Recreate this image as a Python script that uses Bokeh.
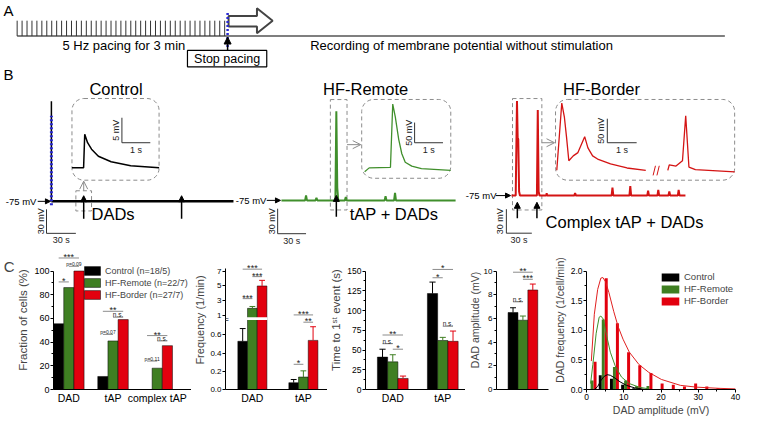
import math
from bokeh.plotting import figure
from bokeh.models import (Range1d, Arrow, NormalHead, OpenHead, Label, Legend, LegendItem,
                          FixedTicker, LinearAxis)
from bokeh.layouts import column, row
from bokeh.embed import file_html
from bokeh.resources import INLINE
from bokeh.core.properties import value

FONT = "Liberation Sans"
C_BLACK = "#000000"
C_GREEN = "#3f7f22"
C_RED = "#e2000e"
TR_GREEN = "#408f2c"
TR_RED = "#d41414"
GRAY = "#8c8c8c"
BAR_COLORS = [C_BLACK, C_GREEN, C_RED]

# ------------------------------------------------------------------ data
series_names = ["Control", "HF-Remote", "HF-Border"]
legend_c1 = ["Control (n=18/5)", "HF-Remote (n=22/7)", "HF-Border (n=27/7)"]

frac_categories = ["DAD", "tAP", "complex tAP"]
frac_control = [55.5, 11, 0]
frac_remote = [86, 41, 18]
frac_border = [100, 59, 37]

freq_categories = ["DAD", "tAP"]
freq_control = [0.53, 0.075]
freq_control_sem = [0.14, 0.035]
freq_remote = [2.0, 0.137]
freq_remote_sem = [0.25, 0.068]
freq_border = [5.0, 0.54]
freq_border_sem = [0.75, 0.15]

time_categories = ["DAD", "tAP"]
time_control = [41, 121.5]
time_control_sem = [10, 14.5]
time_remote = [35, 62]
time_remote_sem = [9, 4]
time_border = [14, 61]
time_border_sem = [3, 13]

amp_control = [6.5]
amp_control_sem = [0.4]
amp_remote = [5.85]
amp_remote_sem = [0.35]
amp_border = [8.4]
amp_border_sem = [0.5]

hist_bins = [1.5, 4.5, 7.5, 10.5, 13.5, 16.5, 19.5, 22.5, 25.5, 28.5, 31.5, 34.5, 37.5]
hist_control = [0, 0.24, 0.18, 0.08, 0.02, 0, 0, 0, 0, 0, 0, 0, 0]
hist_remote = [0.15, 1.18, 0.38, 0.15, 0.06, 0.06, 0, 0, 0, 0, 0, 0, 0]
hist_border = [0.47, 1.88, 1.12, 0.63, 0.41, 0.28, 0.10, 0.08, 0.05, 0.10, 0.05, 0.02, 0.01]

fit_border_x = [1.3, 2.1, 3.0, 3.85, 4.4, 5.1, 6.0, 7.3, 8.5, 9.8, 11.5, 14.1, 16.7, 20.1, 25.2, 29.5, 35.5, 40.0]
fit_border_y = [0.48, 1.27, 1.69, 1.88, 1.89, 1.82, 1.64, 1.32, 1.06, 0.85, 0.63, 0.42, 0.29, 0.17, 0.07, 0.04, 0.02, 0.01]
fit_remote_x = [1.1, 1.7, 2.6, 3.4, 3.85, 4.5, 5.4, 6.4, 7.7, 9.4, 11.5, 14.1, 16.7]
fit_remote_y = [0.10, 0.42, 0.95, 1.22, 1.24, 1.19, 0.91, 0.63, 0.40, 0.21, 0.10, 0.04, 0.01]
fit_control_x = [2.1, 3.0, 3.85, 4.7, 5.6, 6.4, 7.7, 9.0, 10.7, 12.8, 15.8]
fit_control_y = [0.0, 0.05, 0.15, 0.22, 0.25, 0.24, 0.19, 0.13, 0.07, 0.03, 0.0]

# significance marks: (group, series_i, series_j, y, label)
sig_frac = [(1, 0, 1, 90.8, "*"), (1, 0, 2, 111, "***"), (1, 1, 2, 104, "p=0.09"),
            (2, 0, 2, 66, "**"), (2, 1, 2, 61, "n.s."), (2, 0, 1, 46.5, "p=0.07"),
            (3, 0, 2, 45.5, "**"), (3, 1, 2, 41, "n.s."), (3, 0, 1, 24, "p=0.11")]
sig_freq_upper = [(1, 0, 1, 3.3, "***"), (1, 0, 2, 7.25, "***"), (1, 1, 2, 6.25, "***")]
sig_freq_lower = [(2, 0, 1, 0.277, "*"), (2, 0, 2, 0.82, "***"), (2, 1, 2, 0.74, "**")]
sig_time = [(1, 0, 2, 69, "**"), (1, 0, 1, 58, "n.s."), (1, 1, 2, 51, "*"),
            (2, 0, 2, 152, "*"), (2, 0, 1, 141.5, "*"), (2, 1, 2, 80, "n.s.")]
sig_amp = [(1, 0, 2, 9.9, "**"), (1, 1, 2, 9.3, "***"), (1, 0, 1, 7.4, "n.s.")]

# membrane potential traces: time (s) / potential (mV)
ctrl_t = [0, 32, 33, 34, 35, 132, 133, 134, 186]
ctrl_v = [-75, -75, -71, -74.5, -75, -75, -72, -75, -75]
ctrl_stim_top = 50
ctrl_in_t = [0, 0.41, 0.45, 0.55, 0.69, 0.93, 1.38, 2.07, 3.07]
ctrl_in_v = [-75, -75, -68.3, -70.0, -71.3, -72.7, -73.8, -74.6, -75.0]

rem_t = [0, 25, 26, 27, 36, 37, 38, 57, 58, 59, 60, 67, 68, 69, 109, 110, 111, 119, 120, 121, 184]
rem_v = [-75, -75, -69, -75, -75, -72, -75, -75, 32, -60, -75, -75, -71, -75, -75, -70, -75, -75, -66, -75, -75]
rem_in_t = [0, 0.16, 0.91, 0.99, 1.08, 1.2, 1.31, 1.43, 1.66, 2.0, 3.03]
rem_in_v = [-78, -68.3, -66.8, 89.8, 57.9, 2.4, -33.3, -54.3, -63.8, -70.2, -74.3]

bor_t = [0, 5, 6.5, 7.3, 8, 9, 10, 30, 31, 32, 33, 41, 41.5, 42, 74, 75, 76, 118, 119, 120,
         139, 140, 141, 160, 161, 162, 172, 173, 174, 185, 186, 187, 196, 197, 198, 205]
bor_v = [-75, -75, 43, -2, -5, -70, -75, -75, 32, -70, -75, -75, -72, -75, -75, -72, -75, -75, -65, -75,
         -75, -63, -75, -75, -69, -75, -75, -68, -75, -75, -70, -75, -75, -68, -75, -75]
bor_in_t = [0.01, 0.18, 0.27, 0.34, 0.42, 0.57, 0.73, 0.96, 1.07, 1.23, 1.4, 1.84, 2.4, 3.04,
            float("nan"), 3.79, 3.84, 4.07, 4.29, 4.4, 4.51, 4.73, 6.07]
bor_in_v = [-74.4, 65.6, 35.6, -4.4, -54.4, -44.4, -37.6, -4.4, -27.6, -44.4, -51, -61, -69.6, -74.4,
            float("nan"), -74.4, -63, -65.6, -54.4, 39, -67.6, -73, -77.6]

# ------------------------------------------------------------------ top figure (A + B)
W_REF, H_TOP = 757, 256
top = figure(width=741, height=246, x_range=Range1d(0, W_REF), y_range=Range1d(H_TOP, 0),
             x_axis_type=None, y_axis_type=None, output_backend="svg",
             toolbar_location=None, min_border=0)
top.grid.visible = False
top.outline_line_color = None

XR, YR = {}, {}


def frame(name, ox, oy, kx, ky, t0=0.0, v0=-75.0):
    XR[name] = Range1d(t0 - ox / kx, t0 + (W_REF - ox) / kx)
    YR[name] = Range1d(v0 - (H_TOP - oy) / ky, v0 + oy / ky)


frame("ctrl", 52, 209, 1.0, 0.833)
frame("rem", 287, 208, 0.967, 0.867)
frame("bor", 522, 203, 0.867, 0.833)
frame("ctrl_in", 73, 174, 29, 5.2)
frame("rem_in", 372, 177, 29, 0.42)
frame("bor_in", 568, 177, 30, 0.5)
top.extra_x_ranges = XR
top.extra_y_ranges = YR


def rn(name):
    return dict(x_range_name=name, y_range_name=name)


def lab(x, y, text, size, align="center", baseline="middle", angle=0, color="black"):
    top.add_layout(Label(x=x, y=y, text=text, text_font=FONT, text_font_size=size,
                         text_align=align, text_baseline=baseline, angle=angle, text_color=color))


# --- panel A
lab(3, 10, "A", "15px", align="left")
top.line([17, 740], [37, 37], line_color="#555555", line_width=1.5)
n_ticks = 43
tx = [17 + i * (229 - 17) / (n_ticks - 1) for i in range(n_ticks)]
top.segment(x0=tx, y0=[21] * n_ticks, x1=tx, y1=[37] * n_ticks, line_color="#333333", line_width=1)
top.patch([233, 262, 262, 278, 262, 262, 233], [16, 16, 8, 21, 34, 27, 27],
          fill_color="white", line_color="#444444", line_width=2)
top.line([232, 232], [13, 50], line_color="#2a2ad4", line_width=2.5, line_dash="2 2")
top.add_layout(Arrow(x_start=232, y_start=52, x_end=232, y_end=38, line_color="black", line_width=1.5,
                     end=NormalHead(size=7, fill_color="black", line_color="black")))
top.quad(left=[191], right=[272], top=[52], bottom=[69], fill_color="white", line_color="black", line_width=1.2)
lab(231.5, 60.5, "Stop pacing", "12.5px")
lab(126, 47, "5 Hz pacing for 3 min", "13px")
lab(471, 47, "Recording of membrane potential without stimulation", "13px")

# --- panel B
lab(3, 77, "B", "15px", align="left")
lab(118, 92, "Control", "16.5px")
lab(373, 92, "HF-Remote", "16.5px")
lab(614, 92, "HF-Border", "16.5px")

# inset boxes (rounded dashed)
for l_, r_, t_, b_ in [(73, 162, 102, 187), (369, 460, 103, 185), (567, 750, 103, 187)]:
    top.quad(left=[l_], right=[r_], top=[t_], bottom=[b_], border_radius=12, fill_color=None,
             line_color=GRAY, line_dash="4 3", line_width=1)

# event boxes in trace units
for nm, (t0_, t1_, v0_, v1_) in [("ctrl", (25, 41, -87, -61.8)), ("rem", (51.7, 69.3, -86.5, 46)),
                                 ("bor", (1.2, 35.8, -93, 46.2))]:
    top.quad(left=[t0_], right=[t1_], bottom=[v0_], top=[v1_], fill_color=None,
             line_color=GRAY, line_dash="4 3", line_width=1, **rn(nm))

# connectors
for xs, ys, xe, ye in [(85, 198, 85, 188), (354, 150, 368, 150), (553, 148, 566, 148)]:
    top.add_layout(Arrow(x_start=xs, y_start=ys, x_end=xe, y_end=ye, line_color=GRAY, line_width=1,
                         end=OpenHead(size=8, line_color=GRAY, line_width=1)))

# traces
top.line([0, 0], [-75, ctrl_stim_top], line_color="black", line_width=1.5, **rn("ctrl"))
top.line(ctrl_t, ctrl_v, line_color="black", line_width=2.5, **rn("ctrl"))
top.line([0, 0], [-80, 32], line_color="#2a2ad4", line_width=3, line_dash="2 2", **rn("ctrl"))
top.line(ctrl_in_t, ctrl_in_v, line_color="black", line_width=1.5, **rn("ctrl_in"))
top.line(rem_t, rem_v, line_color=TR_GREEN, line_width=2, **rn("rem"))
top.line(rem_in_t, rem_in_v, line_color=TR_GREEN, line_width=1.3, **rn("rem_in"))
top.line(bor_t, bor_v, line_color=TR_RED, line_width=2, **rn("bor"))
top.line(bor_in_t, bor_in_v, line_color=TR_RED, line_width=1.3, **rn("bor_in"))
top.segment(x0=[3.29, 3.42], y0=[-85, -85], x1=[3.37, 3.50], y1=[-65, -65],
            line_color=TR_RED, line_width=1, **rn("bor_in"))


def scalebar(name, t0, v0, dt, dv, tlabel, vlabel, size="9px"):
    top.line([t0, t0, t0 + dt], [v0 + dv, v0, v0], line_color="#333333", line_width=1, **rn(name))
    top.text(x=[t0], y=[v0 + dv / 2], text=[vlabel], angle=math.pi / 2, text_align="center",
             text_baseline="bottom", x_offset=-1, text_font=value(FONT), text_font_size=value(size),
             text_color="#222222", **rn(name))
    top.text(x=[t0 + dt / 2], y=[v0], text=[tlabel], text_align="center", text_baseline="top",
             y_offset=2, text_font=value(FONT), text_font_size=value(size), text_color="#222222", **rn(name))


scalebar("ctrl", -5, -115, 30, 30, "30 s", "30 mV")
scalebar("rem", -4, -115, 30, 30, "30 s", "30 mV")
scalebar("bor", -6, -122, 30, 30, "30 s", "30 mV")
scalebar("ctrl_in", 1.76, -70, 1, 5, "1 s", "5 mV")
scalebar("rem_in", 1.76, -6, 1, 50, "1 s", "50 mV")
scalebar("bor_in", 1.73, -17, 1, 50, "1 s", "50 mV")

# event arrows
for nm, t_, vs, ve in [("ctrl", 33, -96.6, -68), ("ctrl", 133, -96.6, -68), ("rem", 58, -94.6, -69),
                       ("bor", 6.9, -103.4, -83.4), ("bor", 30, -103.4, -83.4)]:
    top.add_layout(Arrow(x_start=t_, y_start=vs, x_end=t_, y_end=ve, line_color="black", line_width=1.5,
                         end=NormalHead(size=6, fill_color="black", line_color="black"), **rn(nm)))

# -75 mV markers
for nm in ["ctrl", "rem", "bor"]:
    top.text(x=[0], y=[-75], text=["-75 mV"], text_align="right", text_baseline="middle", x_offset=-15,
             text_font=value(FONT), text_font_size=value("9.5px"), **rn(nm))
for xs, xe, y_ in [(38, 51, 209), (272, 286, 208), (506, 521, 203)]:
    top.add_layout(Arrow(x_start=xs, y_start=y_, x_end=xe, y_end=y_, line_color="black", line_width=1,
                         end=NormalHead(size=5, fill_color="black", line_color="black")))

lab(115, 222, "DADs", "16.5px")
lab(402, 222, "tAP + DADs", "16.5px")
lab(640, 230, "Complex  tAP + DADs", "16.5px")

# ------------------------------------------------------------------ bottom figures (C)
YT = (409 - 260) / (409 - 282)


def c_fig(width, bl, br, xr, yr):
    f = figure(width=width, height=172, x_range=xr, y_range=yr, output_backend="svg",
               toolbar_location=None, min_border_left=bl, min_border_right=br,
               min_border_top=4, min_border_bottom=24)
    f.grid.visible = False
    f.outline_line_color = None
    return f


def style_axis(ax, tick_size="9px", label_size="11px"):
    ax.axis_line_color = "black"
    ax.axis_line_width = 1
    ax.major_tick_line_color = "black"
    ax.minor_tick_line_color = "black"
    ax.major_tick_out = 3
    ax.major_tick_in = 0
    ax.minor_tick_out = 2
    ax.minor_tick_in = 0
    ax.major_label_text_font = FONT
    ax.major_label_text_font_size = tick_size
    ax.major_label_text_color = "black"
    ax.axis_label_text_font = FONT
    ax.axis_label_text_font_size = label_size
    ax.axis_label_text_font_style = "normal"
    ax.major_label_standoff = 1
    ax.axis_label_standoff = 2


def cat_axis(f, cats, size="10.5px"):
    ax = f.xaxis[0]
    style_axis(ax, tick_size=size)
    ax.ticker = FixedTicker(ticks=list(range(1, len(cats) + 1)), minor_ticks=[])
    ax.major_label_overrides = {i + 1: c for i, c in enumerate(cats)}
    ax.major_tick_out = 0
    ax.major_label_standoff = 2


def sig(f, items, offs, range_name=None):
    kw = {} if range_name is None else {"y_range_name": range_name}
    for g, i, j, y, t in items:
        x0, x1 = g + offs[i], g + offs[j]
        f.segment(x0=[x0], y0=[y], x1=[x1], y1=[y], line_color=GRAY, line_width=1, **kw)
        if t.startswith("*"):
            fs, yo = "9px", 4
        elif t.startswith("p"):
            fs, yo = "5px", 1
        else:
            fs, yo = "6.5px", 1
        f.text(x=[(x0 + x1) / 2], y=[y], text=[t], text_align="center", text_baseline="bottom",
               y_offset=yo, text_font=value(FONT), text_font_size=value(fs), text_color="#222222", **kw)


def err_bars(f, xs, tops, sems, color, cap, range_name=None):
    kw = {} if range_name is None else {"y_range_name": range_name}
    ups = [t + s for t, s in zip(tops, sems)]
    f.segment(x0=xs, y0=tops, x1=xs, y1=ups, line_color=color, line_width=1, **kw)
    f.segment(x0=[x - cap for x in xs], y0=ups, x1=[x + cap for x in xs], y1=ups,
              line_color=color, line_width=1, **kw)


# ---- C1: fraction of cells
OFF1, W1 = [-0.23, 0.0, 0.23], 0.23
c1 = c_fig(191, 45, 0, Range1d(0.653, 3.776), Range1d(0, 100 * YT))
pos1 = [1, 2, 3]
rends = []
for vals, col, off in zip([frac_control, frac_remote, frac_border], BAR_COLORS, OFF1):
    rends.append(c1.vbar(x=[p + off for p in pos1], top=vals, width=W1, bottom=0,
                         fill_color=col, line_color="black", line_width=0.5))
style_axis(c1.yaxis[0], label_size="11.5px")
c1.yaxis[0].axis_label = "Fraction of cells (%)"
c1.yaxis[0].bounds = (0, 100)
c1.yaxis[0].ticker = FixedTicker(ticks=[0, 20, 40, 60, 80, 100], minor_ticks=[10, 30, 50, 70, 90])
# panel letter "C" carried by an extra, tick-less left axis (padding lines push it to the top)
letter_axis = LinearAxis(ticker=FixedTicker(ticks=[]), axis_label="C" + "\n\u00a0" * 6,
                         axis_label_orientation="horizontal",
                         axis_line_color=None, major_tick_line_color=None,
                         minor_tick_line_color=None, axis_label_standoff=0,
                         axis_label_text_font=FONT, axis_label_text_font_size="15px",
                         axis_label_text_font_style="normal", axis_label_text_line_height=1.05)
c1.add_layout(letter_axis, "left")
cat_axis(c1, frac_categories)
sig(c1, sig_frac, OFF1)
leg1 = Legend(items=[LegendItem(label=l, renderers=[r]) for l, r in zip(legend_c1, rends)],
              location=(29, 89), glyph_width=20, glyph_height=11, label_height=11, label_standoff=3,
              spacing=1, padding=0, margin=0, border_line_alpha=0, background_fill_alpha=0,
              label_text_font=FONT, label_text_font_size="9px")
c1.add_layout(leg1)

# ---- C2: frequency (broken axis)
OFF2, W2 = [-0.19, 0.0, 0.19], 0.19
c2 = c_fig(136, 29, 0, Range1d(0.473, 2.473), Range1d(0, 149 / 97.5))
c2.extra_y_ranges = {"upper": Range1d(1 - 79 / 8, 1 + 70 / 8)}
lo, up = c2.y_range, c2.extra_y_ranges["upper"]


def up2lo(u):
    return lo.start + (u - up.start) / (up.end - up.start) * (lo.end - lo.start)


def lo2up(v):
    return up.start + (v - lo.start) / (lo.end - lo.start) * (up.end - up.start)


BREAK_LO = (409 - 333) / 97.5
BREAK_HI = lo2up(BREAK_LO)
pos2 = [1, 2]
for vals, sems, col, off in zip([freq_control, freq_remote, freq_border],
                                [freq_control_sem, freq_remote_sem, freq_border_sem], BAR_COLORS, OFF2):
    for p, v, s in zip(pos2, vals, sems):
        x = p + off
        if v <= BREAK_LO:
            c2.vbar(x=[x], top=[v], bottom=0, width=W2, fill_color=col, line_color="black", line_width=0.5)
            err_bars(c2, [x], [v], [s], col, W2 * 0.3)
        else:
            c2.vbar(x=[x], top=[BREAK_LO], bottom=0, width=W2, fill_color=col, line_color="black",
                    line_width=0.5)
            c2.vbar(x=[x], top=[v], bottom=BREAK_HI, width=W2, fill_color=col, line_color="black",
                    line_width=0.5, y_range_name="upper")
            err_bars(c2, [x], [v], [s], col, W2 * 0.3, range_name="upper")
c2.quad(left=[1 + OFF2[1] - W2 / 2 - 0.01], right=[1 + OFF2[2] + W2 / 2 + 0.01],
        bottom=[BREAK_LO - 0.016], top=[BREAK_LO + 0.016], fill_color="white", line_color=None)
ax2 = c2.yaxis[0]
style_axis(ax2, tick_size="8px", label_size="11px")
ax2.axis_label = "Frequency (1/min)"
ax2.axis_label_standoff = 1
ax2.bounds = (0, up2lo(7.3))
lower_ticks = [0, 0.2, 0.4, 0.6]
upper_ticks = [1, 3, 5, 7]
tick_pos = lower_ticks + [up2lo(u) for u in upper_ticks]
ax2.ticker = FixedTicker(ticks=tick_pos, minor_ticks=[])
ax2.major_label_overrides = dict(zip(tick_pos, ["0.0", "0.2", "0.4", "0.6", "1", "3", "5", "7"]))
cat_axis(c2, freq_categories)
sig(c2, sig_freq_upper, OFF2, range_name="upper")
sig(c2, sig_freq_lower, OFF2)
c2.add_layout(Label(x=0.473, y=BREAK_LO, text="\u2248", text_font=FONT, text_font_size="11px",
                    text_align="center", text_baseline="middle"))

# ---- C3: time to first event
OFF3, W3 = [-0.205, 0.0, 0.205], 0.205
c3 = c_fig(138, 30, 0, Range1d(0.4545, 2.4545), Range1d(0, 150 * YT))
for vals, sems, col, off in zip([time_control, time_remote, time_border],
                                [time_control_sem, time_remote_sem, time_border_sem], BAR_COLORS, OFF3):
    xs = [p + off for p in [1, 2]]
    c3.vbar(x=xs, top=vals, bottom=0, width=W3, fill_color=col, line_color="black", line_width=0.5)
    err_bars(c3, xs, vals, sems, col, W3 * 0.3)
ax3 = c3.yaxis[0]
style_axis(ax3, tick_size="8.5px", label_size="11.5px")
ax3.axis_label = "Time to 1\u02e2\u1d57 event (s)"
ax3.bounds = (0, 150)
ax3.ticker = FixedTicker(ticks=[0, 25, 50, 75, 100, 125, 150], minor_ticks=[12.5, 37.5, 62.5, 87.5, 112.5, 137.5])
cat_axis(c3, time_categories)
sig(c3, sig_time, OFF3)

# ---- C4: DAD amplitude
OFF4, W4 = [-0.333, 0.0, 0.333], 0.333
c4 = c_fig(85, 22, 2, Range1d(0.111, 1.861), Range1d(0, 10 * YT))
for vals, sems, col, off in zip([amp_control, amp_remote, amp_border],
                                [amp_control_sem, amp_remote_sem, amp_border_sem], BAR_COLORS, OFF4):
    xs = [1 + off]
    c4.vbar(x=xs, top=vals, bottom=0, width=W4, fill_color=col, line_color="black", line_width=0.5)
    err_bars(c4, xs, vals, sems, col, W4 * 0.3)
ax4 = c4.yaxis[0]
style_axis(ax4, tick_size="8px", label_size="10.5px")
ax4.axis_label = "DAD amplitude (mV)"
ax4.axis_label_standoff = 0
ax4.bounds = (0, 10)
ax4.ticker = FixedTicker(ticks=[0, 2, 4, 6, 8, 10], minor_ticks=[1, 3, 5, 7, 9])
cat_axis(c4, [""])
sig(c4, sig_amp, OFF4)

# ---- C5: DAD amplitude histogram
OFF5, W5 = [-0.8, 0.0, 0.8], 0.8
c5 = c_fig(191, 32, 6, Range1d(0, 40), Range1d(0, 2 * YT))
rends5 = []
for vals, col, off in zip([hist_control, hist_remote, hist_border], BAR_COLORS, OFF5):
    rends5.append(c5.vbar(x=[b + off for b in hist_bins], top=vals, bottom=0, width=W5,
                          fill_color=col, line_color=None))
c5.line(fit_control_x, fit_control_y, line_color="black", line_width=1)
c5.line(fit_remote_x, fit_remote_y, line_color="#3f8f2a", line_width=1)
c5.line(fit_border_x, fit_border_y, line_color="#e02020", line_width=1)
ax5y = c5.yaxis[0]
style_axis(ax5y, tick_size="8.5px", label_size="10.5px")
ax5y.axis_label = "DAD frequency (1/cell/min)"
ax5y.bounds = (0, 2)
ax5y.ticker = FixedTicker(ticks=[0, 0.5, 1, 1.5, 2], minor_ticks=[0.25, 0.75, 1.25, 1.75])
ax5y.major_label_overrides = {0: "0.0", 0.5: "0.5", 1: "1.0", 1.5: "1.5", 2: "2.0"}
ax5x = c5.xaxis[0]
style_axis(ax5x, tick_size="8.5px", label_size="10.5px")
ax5x.axis_label = "DAD amplitude (mV)"
ax5x.axis_label_standoff = 1
ax5x.ticker = FixedTicker(ticks=[0, 10, 20, 30, 40], minor_ticks=[5, 15, 25, 35])
leg5 = Legend(items=[LegendItem(label=l, renderers=[r]) for l, r in zip(series_names, rends5)],
              location=(73, 83), glyph_width=22, glyph_height=10, label_height=10, label_standoff=3,
              spacing=1, padding=0, margin=0, border_line_alpha=0, background_fill_alpha=0,
              label_text_font=FONT, label_text_font_size="9.5px")
c5.add_layout(leg5)

layout = column(top, row(c1, c2, c3, c4, c5))
open("out.html", "w").write(file_html(layout, INLINE))
